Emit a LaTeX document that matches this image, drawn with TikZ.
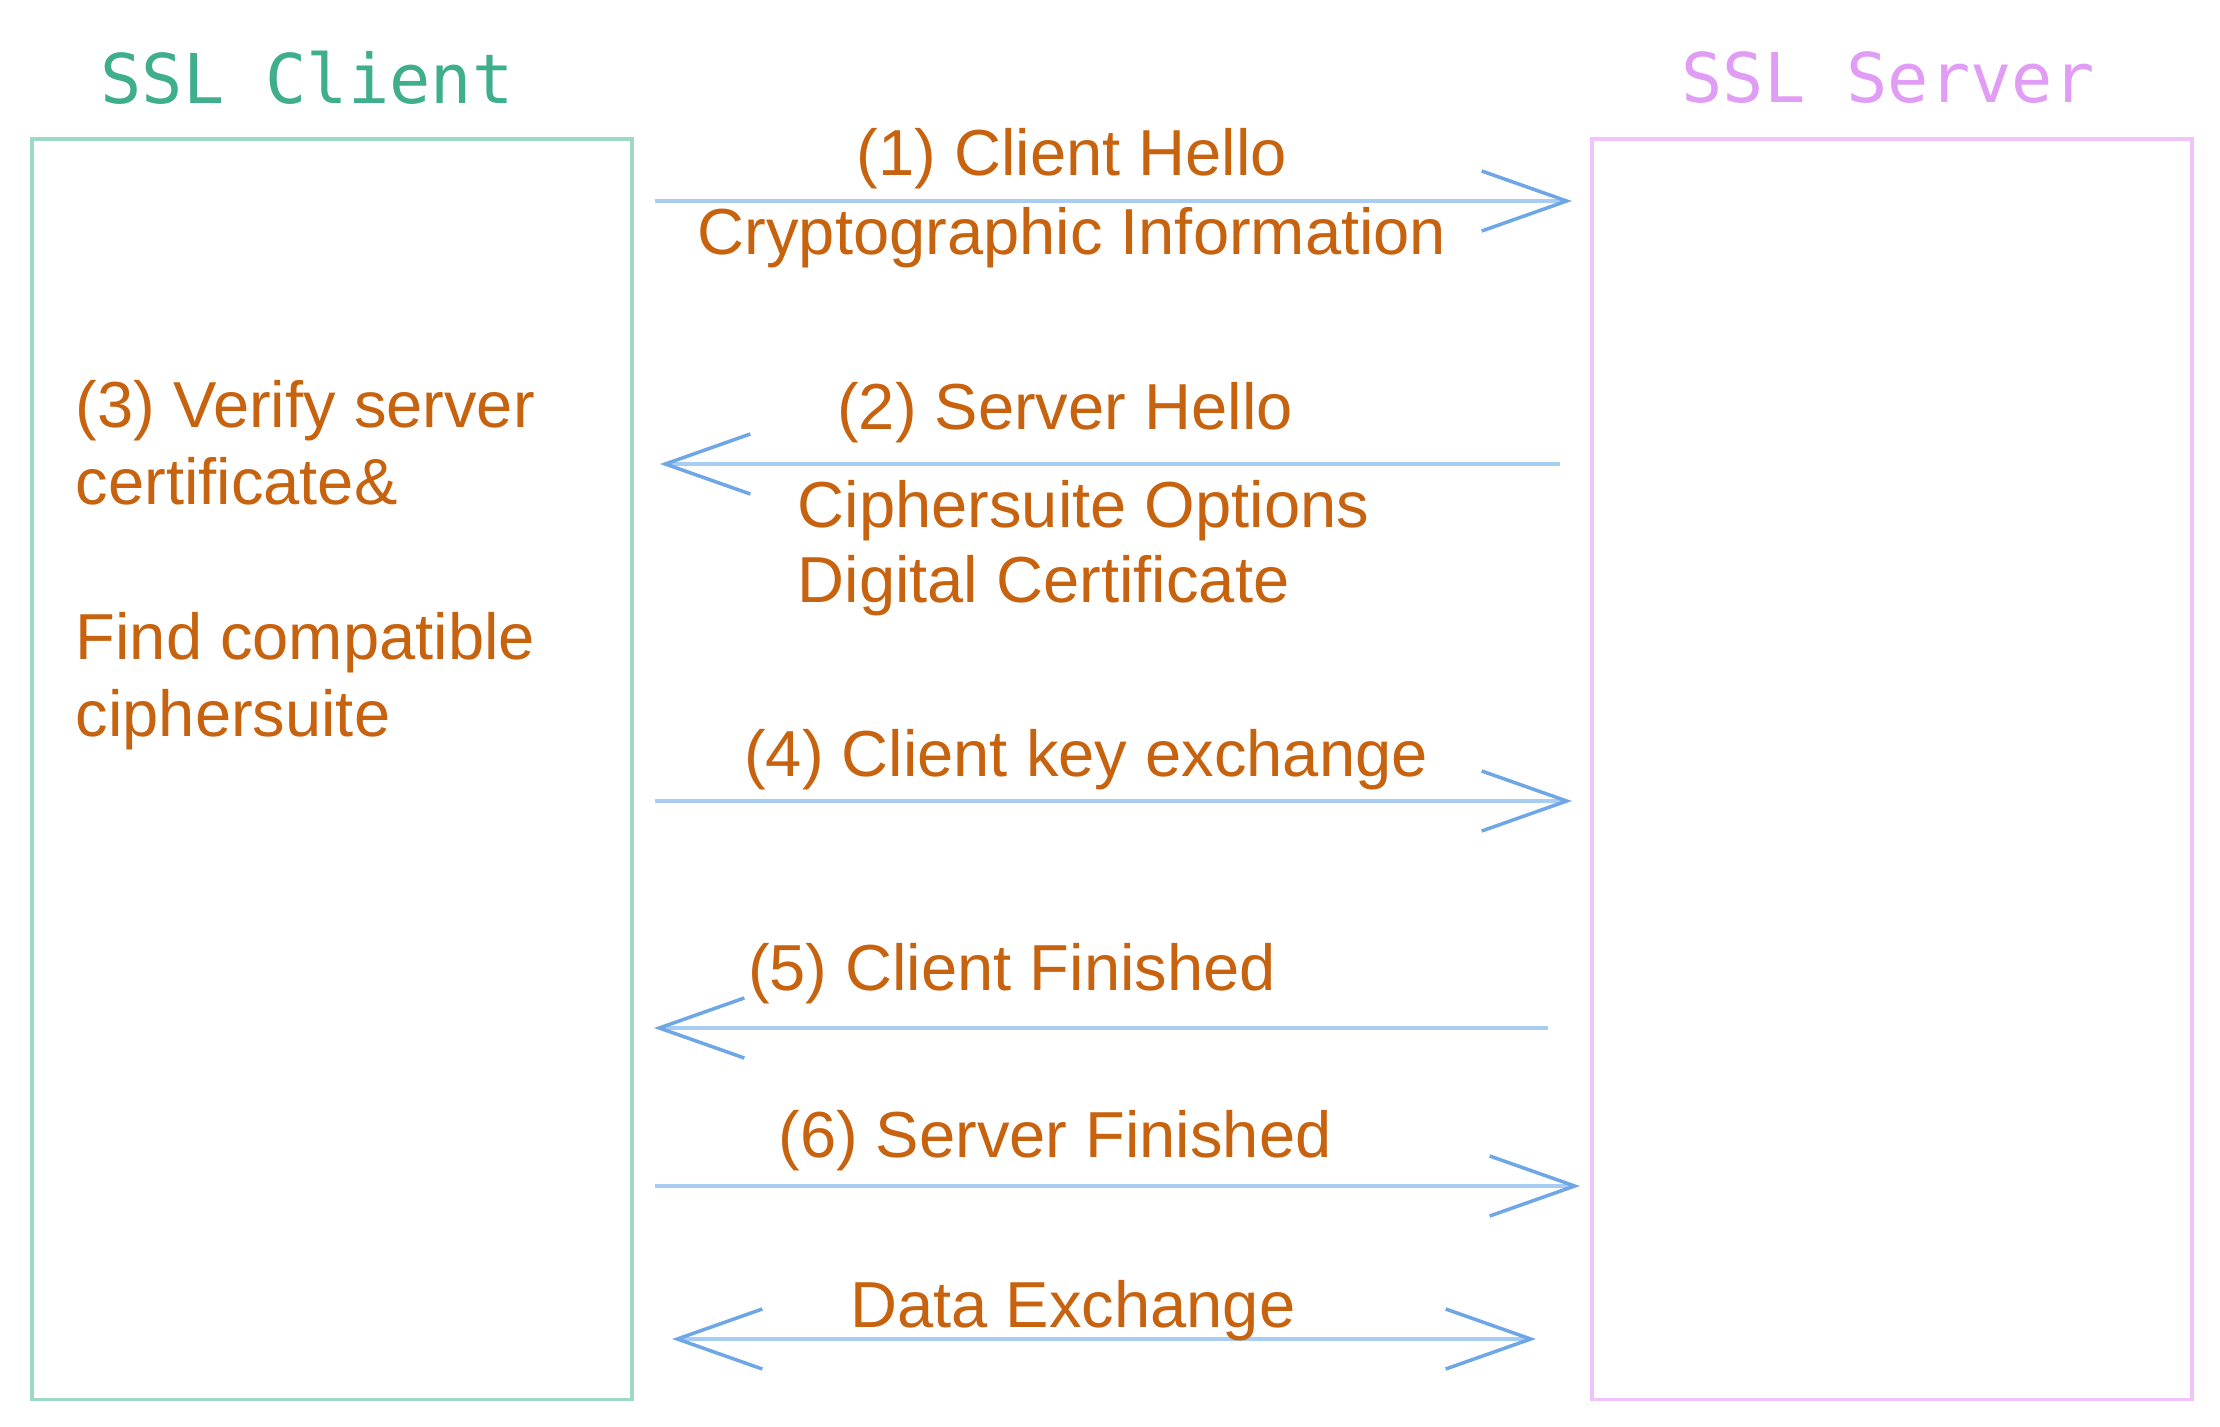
\documentclass[tikz,border=0pt]{standalone}
\usepackage{fontspec}
\setmainfont{Liberation Sans}
\newfontfamily\titlefont{DejaVu Sans Mono}
\usetikzlibrary{arrows.meta}
\definecolor{msgtext}{HTML}{C7620E}
\definecolor{clienttitle}{HTML}{3FAE8C}
\definecolor{clientline}{HTML}{9ED8C6}
\definecolor{servertitle}{HTML}{E19CF5}
\definecolor{serverline}{HTML}{F0C4FA}
\definecolor{msgline}{HTML}{A8CDF2}
\definecolor{msghead}{HTML}{6FA6E6}
\tikzset{
  barb/.tip={Straight Barb[length=8.5mm,width=6mm,color=msghead]},
  msg/.style={draw=msgline, line width=1pt},
  party/.style={line width=1pt, minimum width=6cm, minimum height=12.6cm, anchor=north west},
  title/.style={font=\titlefont\fontsize{19.5}{22}\selectfont},
  label/.style={text=msgtext, font=\fontsize{18.5}{21.3}\selectfont, inner sep=0pt}
}
\begin{document}
\begin{tikzpicture}[x=0.01cm, y=-0.01cm]
  \useasboundingbox (0,0) rectangle (2220,1427);
  % the two parties
  \node[title, text=clienttitle] (clientname) at (307,78) {SSL Client};
  \node[title, text=servertitle] (servername) at (1888,78) {SSL Server};
  \node[party, draw=clientline] (client) at (30,137) {};
  \node[party, draw=serverline] (server) at (1590,137) {};

  % ends of the messages
  \coordinate (c1) at (655,201);  \coordinate (s1) at (1572,201);
  \coordinate (s2) at (1560,464); \coordinate (c2) at (660,464);
  \coordinate (c4) at (655,801);  \coordinate (s4) at (1572,801);
  \coordinate (s5) at (1548,1028); \coordinate (c5) at (654,1028);
  \coordinate (c6) at (655,1186); \coordinate (s6) at (1580,1186);
  \coordinate (c7) at (672,1339); \coordinate (s7) at (1536,1339);

  \draw[msg, -barb] (c1) -- (s1);
  \draw[msg, -barb] (s2) -- (c2);
  \draw[msg, -barb] (c4) -- (s4);
  \draw[msg, -barb] (s5) -- (c5);
  \draw[msg, -barb] (c6) -- (s6);
  \draw[msg, barb-barb] (c7) -- (s7);

  % labels
  \node[label] (hello1) at (1072,159) {(1) Client Hello};
  \node[label] (crypto) at (1072,238) {Cryptographic Information};
  \node[label] (hello2) at (1065,413) {(2) Server Hello};
  \node[label, anchor=west, align=left] (options) at (797,548)
    {Ciphersuite Options\\Digital Certificate};
  \node[label, anchor=west, align=left, font=\fontsize{18.5}{22}\selectfont] (verify) at (75,565)
    {(3) Verify server\\certificate\&\\[22pt]Find compatible\\ciphersuite};
  \node[label] (keyx) at (1086,760) {(4) Client key exchange};
  \node[label] (cfin) at (1012,974) {(5) Client Finished};
  \node[label] (sfin) at (1055,1141) {(6) Server Finished};
  \node[label] (data) at (1073,1311) {Data Exchange};
\end{tikzpicture}
\end{document}
